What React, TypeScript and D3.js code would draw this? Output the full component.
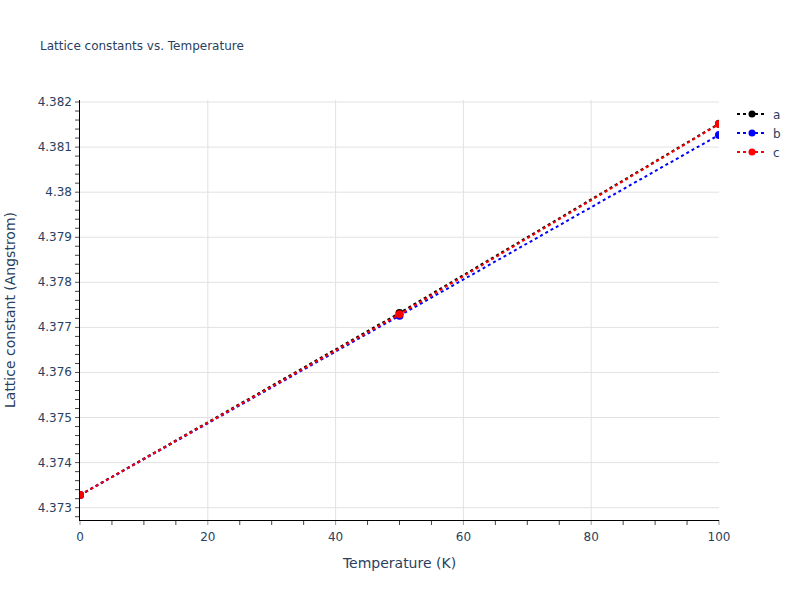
import * as d3 from "d3";
import React, { useEffect, useRef } from "react";

const temperatures = [0, 50, 100];
const seriesNames = ["a", "b", "c"];
const seriesColors = ["#000000", "#0000ff", "#ff0000"];
const aValues = [4.37328, 4.37732, 4.38152];
const bValues = [4.37328, 4.37726, 4.38127];
const cValues = [4.37328, 4.37729, 4.38151];
const xTicks = [0, 20, 40, 60, 80, 100];
const yTicks = [4.373, 4.374, 4.375, 4.376, 4.377, 4.378, 4.379, 4.38, 4.381, 4.382];

const FONT = "'DejaVu Sans', verdana, arial, sans-serif";
const TEXT = "#2a3f5f";

const App: React.FC = () => {
  const svgRef = useRef<SVGSVGElement>(null);
  const width = 800;
  const height = 600;
  const margin = { top: 100, right: 81, bottom: 80, left: 80 };

  useEffect(() => {
    const svg = d3.select(svgRef.current);
    svg.selectAll("*").remove();

    const w = width - margin.left - margin.right;
    const h = height - margin.top - margin.bottom;

    svg.append("rect").attr("width", width).attr("height", height).attr("fill", "#fff");

    const x = d3.scaleLinear().domain([0, 100]).range([0, w]);
    const y = d3.scaleLinear().domain([4.372727, 4.382045]).range([h, 0]);

    const g = svg.append("g").attr("transform", `translate(${margin.left},${margin.top})`);

    // grid
    g.selectAll(".gx")
      .data(xTicks.filter((t) => t > 0 && t < 100))
      .enter()
      .append("line")
      .attr("x1", (d) => x(d))
      .attr("x2", (d) => x(d))
      .attr("y1", 0)
      .attr("y2", h)
      .attr("stroke", "#e2e2e2")
      .attr("stroke-width", 1);
    g.selectAll(".gy")
      .data(yTicks)
      .enter()
      .append("line")
      .attr("x1", 0)
      .attr("x2", w)
      .attr("y1", (d) => y(d))
      .attr("y2", (d) => y(d))
      .attr("stroke", "#e2e2e2")
      .attr("stroke-width", 1);

    // minor ticks
    const xMinor = d3.range(0, 101, 5).filter((v) => v % 20 !== 0);
    g.selectAll(".mx")
      .data(xMinor)
      .enter()
      .append("line")
      .attr("x1", (d) => x(d))
      .attr("x2", (d) => x(d))
      .attr("y1", h)
      .attr("y2", h + 5)
      .attr("stroke", "#444")
      .attr("stroke-width", 1);
    const yMinor = d3.range(0, 47).map((i) => 4.3728 + i * 0.0002).filter((v) => {
      const r = Math.round(v * 10000);
      return r % 10 !== 0 && v < 4.38205;
    });
    g.selectAll(".my")
      .data(yMinor)
      .enter()
      .append("line")
      .attr("x1", -5)
      .attr("x2", 0)
      .attr("y1", (d) => y(d))
      .attr("y2", (d) => y(d))
      .attr("stroke", "#444")
      .attr("stroke-width", 1);

    // major ticks
    g.selectAll(".tx")
      .data(xTicks)
      .enter()
      .append("line")
      .attr("x1", (d) => x(d))
      .attr("x2", (d) => x(d))
      .attr("y1", h)
      .attr("y2", h + 5)
      .attr("stroke", "#999")
      .attr("stroke-width", 1);
    g.selectAll(".ty")
      .data(yTicks)
      .enter()
      .append("line")
      .attr("x1", -5)
      .attr("x2", 0)
      .attr("y1", (d) => y(d))
      .attr("y2", (d) => y(d))
      .attr("stroke", "#555")
      .attr("stroke-width", 1);

    // tick labels
    g.selectAll(".lx")
      .data(xTicks)
      .enter()
      .append("text")
      .attr("x", (d) => x(d))
      .attr("y", h + 21)
      .attr("text-anchor", "middle")
      .attr("font-family", FONT)
      .attr("font-size", 12)
      .attr("fill", TEXT)
      .text((d) => String(d));
    g.selectAll(".ly")
      .data(yTicks)
      .enter()
      .append("text")
      .attr("x", -8)
      .attr("y", (d) => y(d) + 4)
      .attr("text-anchor", "end")
      .attr("font-family", FONT)
      .attr("font-size", 12)
      .attr("fill", TEXT)
      .text((d) => d3.format(".6~f")(d));

    // axis lines
    g.append("line").attr("x1", 0).attr("x2", w).attr("y1", h + 0.5).attr("y2", h + 0.5).attr("stroke", "#000");
    g.append("line").attr("x1", -0.5).attr("x2", -0.5).attr("y1", 0).attr("y2", h + 1).attr("stroke", "#000");

    // data
    svg.append("clipPath").attr("id", "plotclip").append("rect").attr("width", w).attr("height", h);
    const plot = g.append("g").attr("clip-path", "url(#plotclip)");
    const allSeries = [aValues, bValues, cValues];
    const line = d3
      .line<number>()
      .x((_, i) => x(temperatures[i]))
      .y((d) => y(d));
    allSeries.forEach((vals, si) => {
      plot
        .append("path")
        .datum(vals)
        .attr("d", line)
        .attr("fill", "none")
        .attr("stroke", seriesColors[si])
        .attr("stroke-width", 2)
        .attr("stroke-dasharray", "3,3");
      plot
        .selectAll(`.pt${si}`)
        .data(vals)
        .enter()
        .append("circle")
        .attr("cx", (_, i) => x(temperatures[i]))
        .attr("cy", (d) => y(d))
        .attr("r", 4)
        .attr("fill", seriesColors[si]);
    });

    // legend
    const legend = svg.append("g").attr("transform", `translate(737,114)`);
    seriesNames.forEach((name, i) => {
      const row = legend.append("g").attr("transform", `translate(0,${i * 19})`);
      row
        .append("line")
        .attr("x1", 0)
        .attr("x2", 30)
        .attr("stroke", seriesColors[i])
        .attr("stroke-width", 2)
        .attr("stroke-dasharray", "3,3");
      row.append("circle").attr("cx", 15).attr("cy", 0).attr("r", 3.5).attr("fill", seriesColors[i]);
      row
        .append("text")
        .attr("x", 36)
        .attr("y", 4.5)
        .attr("font-family", FONT)
        .attr("font-size", 12)
        .attr("fill", TEXT)
        .text(name);
    });

    // titles
    svg
      .append("text")
      .attr("x", 40)
      .attr("y", 50)
      .attr("font-family", FONT)
      .attr("font-size", 12)
      .attr("fill", TEXT)
      .text("Lattice constants vs. Temperature");
    svg
      .append("text")
      .attr("x", margin.left + w / 2)
      .attr("y", 568)
      .attr("text-anchor", "middle")
      .attr("font-family", FONT)
      .attr("font-size", 14)
      .attr("fill", TEXT)
      .text("Temperature (K)");
    svg
      .append("text")
      .attr("transform", `translate(15,${margin.top + h / 2}) rotate(-90)`)
      .attr("text-anchor", "middle")
      .attr("font-family", FONT)
      .attr("font-size", 14)
      .attr("fill", TEXT)
      .text("Lattice constant (Angstrom)");
  }, []);

  return (
    <div style={{ position: "absolute", left: 0, top: 0 }}>
      <svg ref={svgRef} width={width} height={height}></svg>
    </div>
  );
};

export default App;
